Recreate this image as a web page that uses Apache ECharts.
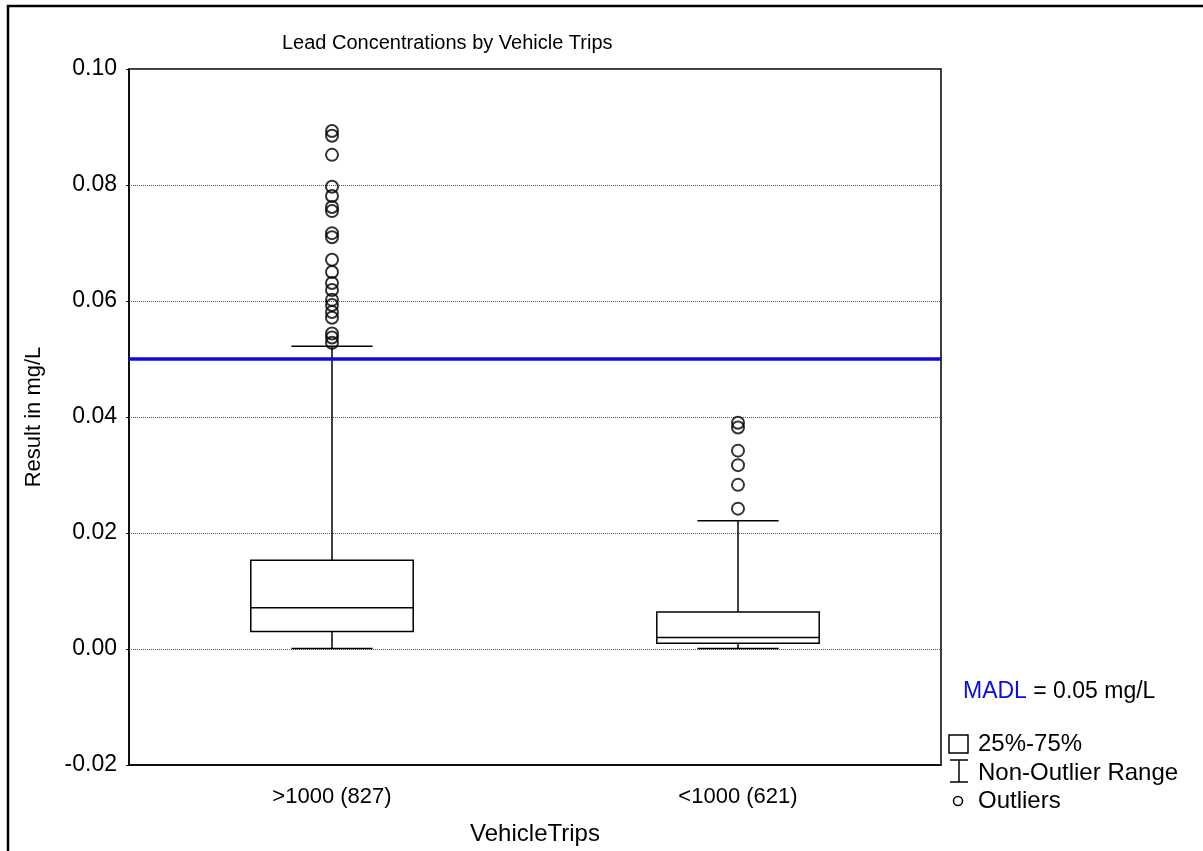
<!DOCTYPE html>
<html>
<head>
<meta charset="utf-8">
<title>Lead Concentrations by Vehicle Trips</title>
<script src="https://cdn.jsdelivr.net/npm/echarts@6/dist/echarts.min.js"></script>
<style>
  html, body { margin: 0; padding: 0; background: #fff; }
  #chart { width: 1203px; height: 851px; }
</style>
</head>
<body>
<div id="chart"></div>
<script>
// categories and box statistics (mg/L)
var categories = ['>1000 (827)', '<1000 (621)'];
var whiskerLow = [0.0001, 0.0001];
var q1 = [0.0030, 0.0010];
var median = [0.0071, 0.0020];
var q3 = [0.0153, 0.0064];
var whiskerHigh = [0.0522, 0.0221];
// outliers per category
var outliersOver = [0.0893, 0.0885, 0.0852, 0.0797, 0.0781, 0.0762, 0.0755, 0.0717, 0.0710,
  0.0671, 0.0650, 0.0631, 0.0619, 0.0602, 0.0593, 0.0581, 0.0571, 0.0544, 0.0537, 0.0528];
var outliersUnder = [0.0390, 0.0382, 0.0342, 0.0317, 0.0283, 0.0242];
var madl = 0.0512;

var FONT = 'Liberation Sans, Arial, sans-serif';

function renderBox(params, api) {
  var x = api.value(0);
  var lo = api.coord([x, api.value(1)]);
  var b1 = api.coord([x, api.value(2)]);
  var md = api.coord([x, api.value(3)]);
  var b3 = api.coord([x, api.value(4)]);
  var hi = api.coord([x, api.value(5)]);
  var band = api.size([1, 0])[0];
  var hw = band * 0.2;   // half box width
  var cw = band * 0.1;   // half cap width
  var cx = lo[0];
  var st = { stroke: '#000', lineWidth: 1.5, fill: null };
  return {
    type: 'group',
    children: [
      { type: 'line', shape: { x1: cx, y1: hi[1], x2: cx, y2: b3[1] }, style: st },
      { type: 'line', shape: { x1: cx, y1: b1[1], x2: cx, y2: lo[1] }, style: st },
      { type: 'line', shape: { x1: cx - cw, y1: hi[1], x2: cx + cw, y2: hi[1] }, style: st },
      { type: 'line', shape: { x1: cx - cw, y1: lo[1], x2: cx + cw, y2: lo[1] }, style: st },
      { type: 'rect', shape: { x: cx - hw, y: b3[1], width: hw * 2, height: b1[1] - b3[1] }, style: st },
      { type: 'line', shape: { x1: cx - hw, y1: md[1], x2: cx + hw, y2: md[1] }, style: st }
    ]
  };
}

var boxData = [];
for (var i in categories) {
  boxData.push([+i, whiskerLow[i], q1[i], median[i], q3[i], whiskerHigh[i]]);
}
var outlierData = [];
outliersOver.forEach(function (v) { outlierData.push([0, v]); });
outliersUnder.forEach(function (v) { outlierData.push([1, v]); });

var myChart = echarts.init(document.getElementById('chart'));
var option = {
  backgroundColor: '#fff',
  animation: false,
  title: {
    text: 'Lead Concentrations by Vehicle Trips',
    left: 277,
    top: 28,
    textStyle: { fontFamily: FONT, fontSize: 20, fontWeight: 'normal', color: '#000' }
  },
  grid: {
    left: 129, right: 262, top: 69, bottom: 85,
    show: true, borderColor: '#000', borderWidth: 1.5, backgroundColor: 'transparent'
  },
  xAxis: {
    type: 'category',
    data: categories,
    boundaryGap: true,
    name: 'VehicleTrips',
    nameLocation: 'middle',
    nameGap: 57,
    nameTextStyle: { fontFamily: FONT, fontSize: 24, color: '#000' },
    axisLine: { onZero: false, lineStyle: { color: '#000', width: 1.5 } },
    axisTick: { show: false },
    axisLabel: { fontFamily: FONT, fontSize: 22, color: '#000', margin: 21 },
    splitLine: { show: false }
  },
  yAxis: {
    type: 'value',
    min: -0.02,
    max: 0.10,
    interval: 0.02,
    name: 'Result in mg/L',
    nameLocation: 'middle',
    nameGap: 84,
    nameTextStyle: { fontFamily: FONT, fontSize: 22, color: '#000' },
    axisLine: { show: true, lineStyle: { color: '#000', width: 1.5 } },
    axisTick: { show: true, length: 3, lineStyle: { color: '#000' } },
    axisLabel: {
      fontFamily: FONT, fontSize: 23, color: '#000', margin: 12,
      formatter: function (v) { return v.toFixed(2); }
    },
    splitLine: { show: true, lineStyle: { color: '#555', type: 'dotted', width: 1 } }
  },
  series: [
    {
      type: 'custom',
      renderItem: renderBox,
      data: boxData,
      encode: { x: 0, y: [1, 2, 3, 4, 5] },
      silent: true,
      z: 3
    },
    {
      type: 'scatter',
      data: outlierData,
      symbol: 'circle',
      symbolSize: 12,
      itemStyle: { color: 'rgba(0,0,0,0)', borderColor: '#000', borderWidth: 2 },
      silent: true,
      z: 4,
      markLine: {
        silent: true,
        symbol: 'none',
        label: { show: false },
        lineStyle: { color: '#0a0ae6', width: 3.5, type: 'solid' },
        data: [{ yAxis: madl }]
      }
    }
  ],
  graphic: [
    // outer frame
    { type: 'rect', shape: { x: 8, y: 6, width: 1300, height: 900 },
      style: { fill: null, stroke: '#000', lineWidth: 2.5 }, z: 10 },
    // MADL note
    { type: 'text', x: 963, y: 692,
      style: {
        text: '{b|MADL} = 0.05 mg/L',
        rich: { b: { fill: '#0a0ae6', fontFamily: FONT, fontSize: 23 } },
        fill: '#000', font: '23px ' + FONT, verticalAlign: 'middle'
      } },
    // legend: box
    { type: 'rect', shape: { x: 949, y: 735, width: 19, height: 18 },
      style: { fill: '#fff', stroke: '#000', lineWidth: 1.5 } },
    { type: 'text', x: 978, y: 744,
      style: { text: '25%-75%', fill: '#000', font: '24px ' + FONT, verticalAlign: 'middle' } },
    // legend: non-outlier range
    { type: 'group', children: [
      { type: 'line', shape: { x1: 950, y1: 760, x2: 968, y2: 760 }, style: { stroke: '#000', lineWidth: 1.5 } },
      { type: 'line', shape: { x1: 959, y1: 760, x2: 959, y2: 782 }, style: { stroke: '#000', lineWidth: 1.5 } },
      { type: 'line', shape: { x1: 950, y1: 782, x2: 968, y2: 782 }, style: { stroke: '#000', lineWidth: 1.5 } }
    ] },
    { type: 'text', x: 978, y: 773,
      style: { text: 'Non-Outlier Range', fill: '#000', font: '24px ' + FONT, verticalAlign: 'middle' } },
    // legend: outliers
    { type: 'circle', shape: { cx: 958, cy: 801, r: 4.5 }, style: { fill: null, stroke: '#000', lineWidth: 1.5 } },
    { type: 'text', x: 978, y: 801,
      style: { text: 'Outliers', fill: '#000', font: '24px ' + FONT, verticalAlign: 'middle' } }
  ]
};
myChart.setOption(option);
</script>
</body>
</html>
